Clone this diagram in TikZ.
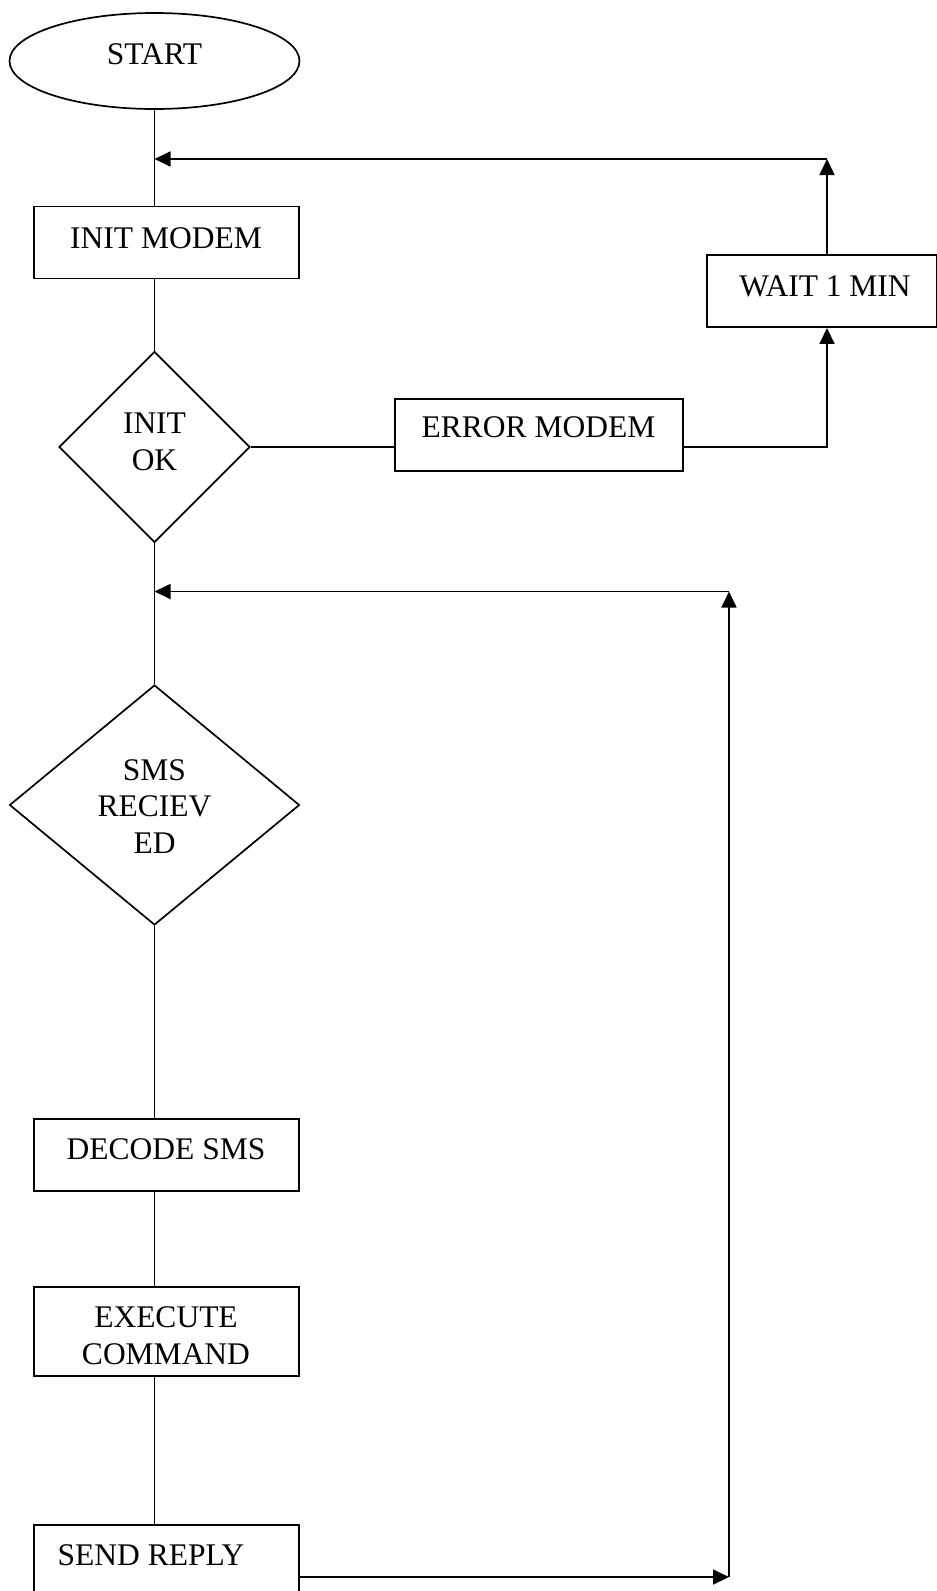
\documentclass[tikz,border=0pt]{standalone}
\usepackage{fontspec}
\setmainfont{Liberation Serif}
\usetikzlibrary{shapes.geometric,arrows.meta}
\begin{document}
\begin{tikzpicture}[x=1pt,y=-1pt,
  line width=1.7pt,
  box/.style={draw, line width=1.9pt, rectangle, inner sep=0pt},
  flowline/.style={line width=1.7pt},
  lbl/.style={font=\fontsize{31.5}{37}\selectfont, align=center, inner sep=0pt},
  arr/.style={flowline, -{Triangle[length=16pt,width=15pt]}},
]
\useasboundingbox (0,0) rectangle (937,1591);
% nodes
\node[draw, ellipse, line width=1.7pt, minimum width=290, minimum height=96, inner sep=0pt] (start) at (154.5,61) {};
\node[lbl] (startT) at (154.5,54) {START};
\node[box, minimum width=265, minimum height=72] (init) at (166.75,242.5) {};
\node[lbl] (initT) at (166,238) {INIT MODEM};
\node[draw, diamond, line width=1.7pt, minimum width=191, minimum height=191, inner sep=0pt] (ok) at (154.5,447) {};
\node[lbl] (okT) at (154.5,442) {INIT\\OK};
\node[box, minimum width=288, minimum height=72] (err) at (539,435) {};
\node[lbl] (errT) at (538.5,427.7) {ERROR MODEM};
\node[box, minimum width=230, minimum height=72] (wait) at (822,291) {};
\node[lbl] (waitT) at (825,286.7) {WAIT 1 MIN};
\node[draw, diamond, line width=1.7pt, minimum width=290, minimum height=240, inner sep=0pt] (sms) at (154.5,805) {};
\node[lbl, font=\fontsize{31.5}{36.5}\selectfont] (smsT) at (154.5,806.5) {SMS\\RECIEV\\ED};
\node[box, minimum width=265, minimum height=72] (decode) at (166.75,1155) {};
\node[lbl] (decodeT) at (166,1149.5) {DECODE SMS};
\node[box, minimum width=265, minimum height=89] (exec) at (166.75,1331.5) {};
\node[lbl] (execT) at (166,1335.5) {EXECUTE\\COMMAND};
\node[box, minimum width=265, minimum height=95] (send) at (166.75,1572.5) {};
\node[lbl] (sendT) at (151,1555) {SEND REPLY};
% coordinates for bends
\coordinate (c1) at (827,159);
\coordinate (c2) at (827,446.7);
\coordinate (c3) at (729,1577);
\coordinate (c4) at (729,591.5);
% main flow
\draw[flowline] (start.south) -- (start.south |- init.north);
\draw[flowline] (start.south |- init.south) -- (ok.north);
\draw[flowline] (ok.south) -- (sms.north);
\draw[flowline] (sms.south) -- (sms.south |- decode.north);
\draw[flowline] (sms.south |- decode.south) -- (sms.south |- exec.north);
\draw[flowline] (sms.south |- exec.south) -- (sms.south |- send.north);
% error loop
\draw[flowline] (c2 -| ok.east) -- (c2 -| err.west);
\draw[arr] (c2 -| err.east) -- (c2) -- (c2 |- wait.south);
\draw[arr] (c1 |- wait.north) -- (c1);
\draw[arr] (c1) -- (c1 -| start.south);
% reply loop
\draw[arr] (c3 -| send.east) -- (c3);
\draw[arr] (c3) -- (c4);
\draw[arr] (c4) -- (c4 -| ok.south);
\end{tikzpicture}
\end{document}
